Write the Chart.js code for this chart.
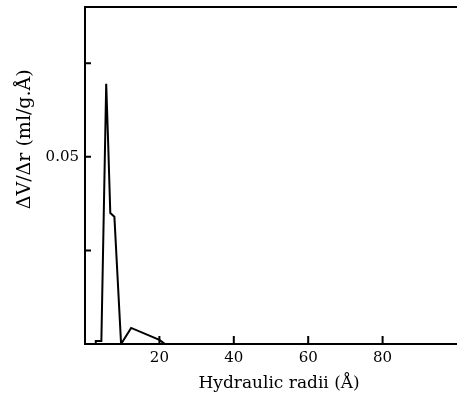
<!DOCTYPE html>
<html><head><meta charset="utf-8">
<script src="https://cdn.jsdelivr.net/npm/chart.js@4/dist/chart.umd.min.js"></script>
<style>html,body{margin:0;padding:0;background:#fff}#wrap{width:457px;height:399px}</style>
</head><body><div id="wrap"><canvas id="c"></canvas></div>
<script>
const radii = [0, 2.8, 2.9, 4.4, 5.7, 6.2, 6.8, 7.9, 9.7, 12.4, 20, 21.5, 85];
const dVdr  = [0, 0, 0.0008, 0.0008, 0.0695, 0.0545, 0.035, 0.034, 0, 0.0043, 0.0011, 0, 0];
const xTickMarks = [20, 40, 60, 80];
const xTickLabels = ['20', '40', '60', '80'];
const yTickMarks = [0.025, 0.05, 0.075];
const yLabelValues = [0.05];
const yTickLabels = ['0.05'];
const xTitle = '\u00a0\u00a0\u00a0Hydraulic radii (Å)';
const yTitle = '\u00a0'.repeat(12) + 'ΔV/Δr (ml/g.Å)';

const font = 'DejaVu Serif';
const pts = radii.map((r, i) => ({x: r, y: dVdr[i]}));

const inwardTicks = {
  id: 'inwardTicks',
  afterDraw(chart) {
    const ctx = chart.ctx, a = chart.chartArea;
    const xs = chart.scales.x, ys = chart.scales.y;
    ctx.save();
    ctx.strokeStyle = '#000';
    ctx.lineWidth = 2;
    ctx.beginPath();
    ctx.moveTo(a.left, a.top); ctx.lineTo(a.right, a.top);
    xTickMarks.forEach(v => { const p = xs.getPixelForValue(v); ctx.moveTo(p, a.bottom); ctx.lineTo(p, a.bottom - 8); });
    yTickMarks.forEach(v => { const p = ys.getPixelForValue(v); ctx.moveTo(a.left, p); ctx.lineTo(a.left + 6, p); });
    ctx.stroke();
    ctx.restore();
  }
};

new Chart(document.getElementById('c'), {
  type: 'line',
  data: { datasets: [{ data: pts, borderColor: '#000', borderWidth: 2, pointRadius: 0, tension: 0, fill: false }] },
  options: {
    responsive: true, maintainAspectRatio: false, animation: false,
    layout: { padding: { top: 0, right: 0, left: 0, bottom: 0 } },
    plugins: { legend: { display: false }, tooltip: { enabled: false } },
    scales: {
      x: {
        type: 'linear', min: 0, max: 100,
        grid: { display: false, drawTicks: false, tickLength: 0 },
        border: { display: true, color: '#000', width: 2 },
        afterBuildTicks: s => { s.ticks = xTickMarks.map(v => ({value: v})); },
        ticks: { color: '#000', font: { family: font, size: 15 }, padding: 5, maxRotation: 0,
          callback: (v) => { const i = xTickMarks.indexOf(v); return i >= 0 ? xTickLabels[i] : ''; } },
        title: { display: true, text: xTitle, color: '#000', font: { family: font, size: 17 }, padding: { top: 4, bottom: 5 } },
        afterFit: s => { s.height = 55; s.paddingLeft = 0; s.paddingRight = 0; }
      },
      y: {
        type: 'linear', min: 0, max: 0.09,
        grid: { display: false, drawTicks: false, tickLength: 0 },
        border: { display: true, color: '#000', width: 2 },
        afterBuildTicks: s => { s.ticks = yLabelValues.map(v => ({value: v})); },
        ticks: { color: '#000', font: { family: font, size: 15 }, padding: 6,
          callback: (v) => { const i = yLabelValues.indexOf(v); return i >= 0 ? yTickLabels[i] : ''; } },
        title: { display: true, text: yTitle, color: '#000', font: { family: font, size: 19 }, padding: { top: 14, bottom: 4 } },
        afterFit: s => { s.width = 85; s.paddingTop = 7; s.paddingBottom = 0; }
      }
    }
  },
  plugins: [inwardTicks]
});
</script></body></html>
